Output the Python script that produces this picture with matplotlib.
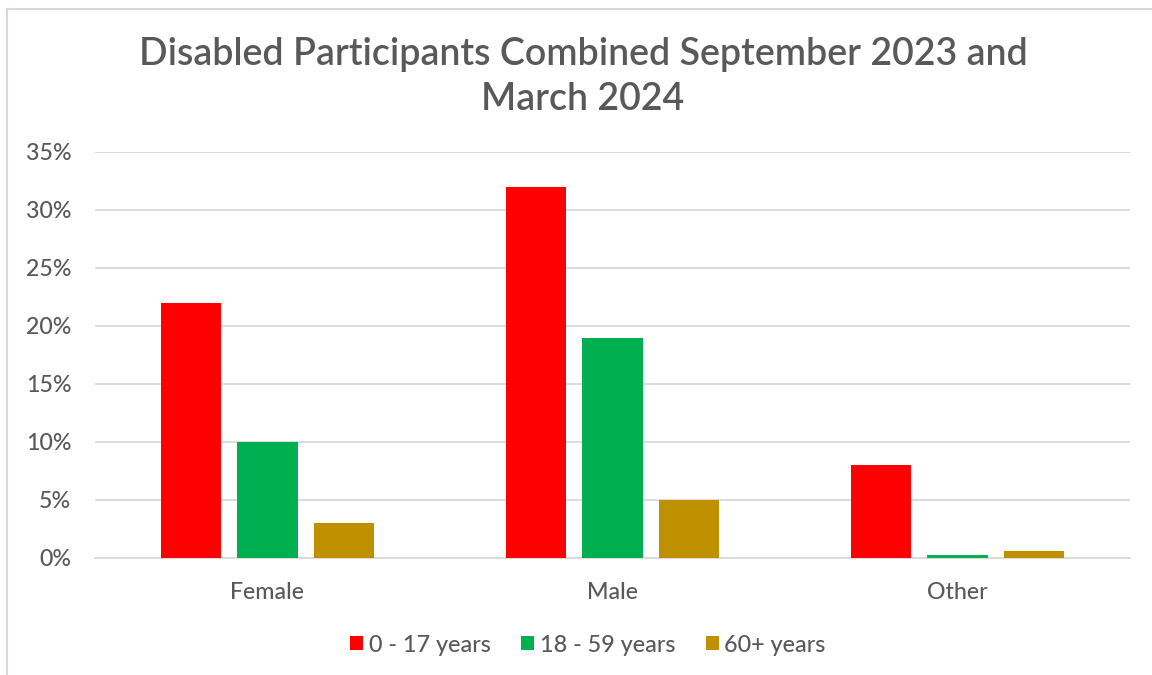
import matplotlib
matplotlib.use("Agg")
import matplotlib.pyplot as plt
import numpy as np
from matplotlib.ticker import PercentFormatter
from matplotlib.lines import Line2D

categories = ["Female", "Male", "Other"]
series_names = ["0 - 17 years", "18 - 59 years", "60+ years"]
age_0_17 = [22, 32, 8]
age_18_59 = [10, 19, 0.3]
age_60_plus = [3, 5, 0.6]
colors = ["#FF0000", "#00B050", "#BF9000"]
yticks = [0, 5, 10, 15, 20, 25, 30, 35]
title = "Disabled Participants Combined September 2023 and\nMarch 2024"

plt.rcParams['font.family'] = ['Lato', 'DejaVu Sans']
plt.rcParams['font.weight'] = 'medium'
text_color = "#595959"

fig = plt.figure(figsize=(11.52, 6.75), dpi=100)
ax = fig.add_axes([95/1152, 1-558/675, (1130-95)/1152, (558-152)/675])

x = np.arange(len(categories))
width = 0.174
step = 0.222
for i, (vals, c, name) in enumerate(zip([age_0_17, age_18_59, age_60_plus], colors, series_names)):
    ax.bar(x + (i-1)*step, vals, width, color=c, label=name, zorder=3)

ax.set_xlim(-0.5, 2.5)
ax.set_ylim(0, 35)
ax.set_yticks(yticks)
ax.yaxis.set_major_formatter(PercentFormatter(decimals=0))
ax.set_xticks(x)
ax.set_xticklabels(categories)
ax.grid(axis='y', color="#D9D9D9", linewidth=1.3, zorder=0)
for s in ["top", "right", "left"]:
    ax.spines[s].set_visible(False)
ax.spines["bottom"].set_color("#D9D9D9")
ax.spines["bottom"].set_linewidth(1.3)
ax.tick_params(axis='both', length=0, labelsize=16.7, colors=text_color)
ax.tick_params(axis='y', pad=17)
ax.tick_params(axis='x', pad=17)

fig.text(583/1152, 1-77/675, title, ha='center', va='center', fontsize=27,
         color=text_color, linespacing=1.33, fontweight='semibold')

leg = fig.legend(loc='center', bbox_to_anchor=(588/1152, 1-645/675), ncol=3,
                 frameon=False, prop={'size': 16.8, 'weight': 'medium'},
                 handlelength=0.55, handleheight=0.55,
                 handletextpad=0.25, columnspacing=1.3)
for t in leg.get_texts():
    t.set_color(text_color)

# chart border (top and left visible)
fig.add_artist(Line2D([7/1152, 1], [1-9/675, 1-9/675], color="#D9D9D9", linewidth=1.5))
fig.add_artist(Line2D([7/1152, 7/1152], [0, 1-9/675], color="#D9D9D9", linewidth=1.5))

fig.savefig("out.png", dpi=100, facecolor="white")
